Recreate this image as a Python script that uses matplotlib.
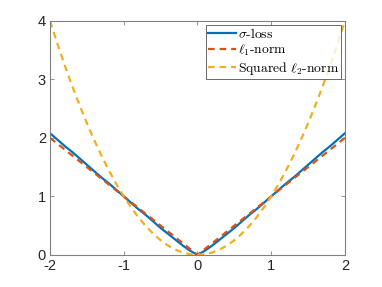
import numpy as np
import matplotlib
matplotlib.use("Agg")
import matplotlib.pyplot as plt

plt.rcParams['mathtext.fontset'] = 'cm'
plt.rcParams['font.family'] = ['Liberation Sans', 'DejaVu Sans']

x = [-2.0, -1.9, -1.8, -1.7, -1.6, -1.5, -1.4, -1.3, -1.2, -1.1, -1.0,
     -0.9, -0.8, -0.7, -0.6, -0.5, -0.4, -0.3, -0.2, -0.1, 0.0,
     0.1, 0.2, 0.3, 0.4, 0.5, 0.6, 0.7, 0.8, 0.9, 1.0,
     1.1, 1.2, 1.3, 1.4, 1.5, 1.6, 1.7, 1.8, 1.9, 2.0]
sigma_loss = [2.08, 1.97, 1.86, 1.76, 1.65, 1.54, 1.43, 1.32, 1.22, 1.11, 1.0,
              0.89, 0.78, 0.68, 0.57, 0.46, 0.36, 0.26, 0.16, 0.07, 0.0,
              0.07, 0.16, 0.26, 0.36, 0.46, 0.57, 0.68, 0.78, 0.89, 1.0,
              1.11, 1.22, 1.32, 1.43, 1.54, 1.65, 1.76, 1.86, 1.97, 2.08]
l1_norm = [2.0, 1.9, 1.8, 1.7, 1.6, 1.5, 1.4, 1.3, 1.2, 1.1, 1.0,
           0.9, 0.8, 0.7, 0.6, 0.5, 0.4, 0.3, 0.2, 0.1, 0.0,
           0.1, 0.2, 0.3, 0.4, 0.5, 0.6, 0.7, 0.8, 0.9, 1.0,
           1.1, 1.2, 1.3, 1.4, 1.5, 1.6, 1.7, 1.8, 1.9, 2.0]
sq_l2_norm = [4.0, 3.61, 3.24, 2.89, 2.56, 2.25, 1.96, 1.69, 1.44, 1.21, 1.0,
              0.81, 0.64, 0.49, 0.36, 0.25, 0.16, 0.09, 0.04, 0.01, 0.0,
              0.01, 0.04, 0.09, 0.16, 0.25, 0.36, 0.49, 0.64, 0.81, 1.0,
              1.21, 1.44, 1.69, 1.96, 2.25, 2.56, 2.89, 3.24, 3.61, 4.0]
labels = [r'$\sigma$-loss', r'$\ell_1$-norm', r'Squared $\ell_2$-norm']
xticks = [-2, -1, 0, 1, 2]
yticks = [0, 1, 2, 3, 4]

fig = plt.figure(figsize=(3.82, 2.87), dpi=100)
ax = fig.add_axes([0.131, 0.112, 0.772, 0.815])
ax.plot(x, sigma_loss, color='#0072BD', lw=1.6, label=labels[0])
ax.plot(x, l1_norm, color='#D95319', lw=1.6, ls=(0, (3, 2.2)), label=labels[1])
ax.plot(x, sq_l2_norm, color='#EDB120', lw=1.6, ls=(0, (3, 2.2)), label=labels[2])

ax.set_xlim(-2, 2)
ax.set_ylim(0, 4)
ax.set_xticks(xticks)
ax.set_yticks(yticks)
ax.set_xticklabels([str(t) for t in xticks])
ax.set_yticklabels([str(t) for t in yticks])
for s in ax.spines.values():
    s.set_color('#808080')
    s.set_linewidth(0.8)
ax.tick_params(direction='in', length=3, width=0.6, color='#808080',
               labelsize=10.5, labelcolor='#262626', top=True, right=True, pad=3)

leg = ax.legend(loc='upper right', prop={'family': 'cmr10', 'size': 9.8},
                frameon=True, fancybox=False, edgecolor='#262626',
                borderpad=0.15, labelspacing=0.12, handlelength=2.1,
                handletextpad=0.1, borderaxespad=0.3)
leg.get_frame().set_linewidth(0.6)

fig.savefig('out.png', dpi=100)
